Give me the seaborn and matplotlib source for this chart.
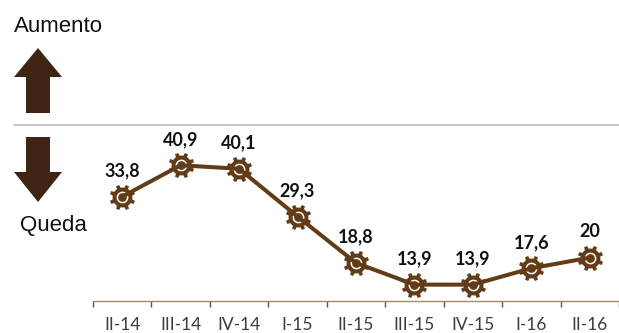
import matplotlib
matplotlib.use("Agg")
import numpy as np
import pandas as pd
import seaborn as sns
import matplotlib.pyplot as plt
from matplotlib.lines import Line2D
from matplotlib.patches import Polygon
from matplotlib.path import Path

quarters = ["II-14", "III-14", "IV-14", "I-15", "II-15", "III-15", "IV-15", "I-16", "II-16"]
values = [33.8, 40.9, 40.1, 29.3, 18.8, 13.9, 13.9, 17.6, 20]
labels = ["33,8", "40,9", "40,1", "29,3", "18,8", "13,9", "13,9", "17,6", "20"]

BROWN = "#623c17"
ARROW = "#3f2414"
W, H = 619, 333


def gear_path(teeth=8, outer=1.0, inner=0.78):
    """Closed outline of a cog wheel with square teeth."""
    verts = []
    step = 2 * np.pi / teeth
    half = step * 0.17
    for i in range(teeth):
        a = i * step + step / 2
        verts += [
            (inner * np.cos(a - 1.4 * half), inner * np.sin(a - 1.4 * half)),
            (outer * np.cos(a - half), outer * np.sin(a - half)),
            (outer * np.cos(a + half), outer * np.sin(a + half)),
            (inner * np.cos(a + 1.4 * half), inner * np.sin(a + 1.4 * half)),
        ]
    verts.append(verts[0])
    codes = [Path.MOVETO] + [Path.LINETO] * (len(verts) - 2) + [Path.CLOSEPOLY]
    return Path(verts, codes)


sns.set_theme(style="white")
plt.rcParams["font.family"] = ["Lato", "DejaVu Sans"]

fig = plt.figure(figsize=(W / 100, H / 100), dpi=100, facecolor="white")
ax = fig.add_axes([93 / W, 1 - 301 / H, (619 - 93) / W, (301 - 125) / H])
ax.patch.set_alpha(0)

df = pd.DataFrame({"trimestre": quarters, "valor": values})
pos = np.arange(len(quarters))
# Cog body, white ring, then the line and a hub dot on top
ax.plot(pos, values, ls="none", marker=gear_path(), ms=18, mfc=BROWN, mec=BROWN, mew=0, zorder=2)
ax.plot(pos, values, ls="none", marker="o", ms=8.5, mfc="white", mec="white", mew=0, zorder=3)
sns.lineplot(data=df, x="trimestre", y="valor", color=BROWN, linewidth=2.9,
             sort=False, ax=ax, solid_capstyle="round", zorder=4)
ax.plot(pos, values, ls="none", marker="o", ms=6.3, mfc=BROWN, mec=BROWN, mew=0, zorder=5)

ax.set_xlim(-0.5, len(quarters) - 0.5)
ax.set_ylim(10.2, 50)
ax.set_xlabel("")
ax.set_ylabel("")
ax.set_yticks([])
for side in ("top", "left", "right"):
    ax.spines[side].set_visible(False)
ax.spines["bottom"].set_color("#a08a70")
ax.spines["bottom"].set_linewidth(1.0)

ax.set_xticks(pos)
ax.set_xticklabels(quarters, fontsize=12.5, color="#3c3c3c")
ax.set_xticks(np.arange(len(quarters) + 1) - 0.5, minor=True)
ax.tick_params(axis="x", which="major", length=0, pad=11.5)
ax.tick_params(axis="x", which="minor", length=4.5, width=1.0, color="#6b5238", bottom=True)

for x, y, text in zip(pos, values, labels):
    ax.annotate(text, (x, y), xytext=(0, 12.5), textcoords="offset points",
                ha="center", va="bottom", fontsize=13, fontweight="bold", color="#111111")


def to_fig(points):
    return [(px / W, 1 - py / H) for px, py in points]


# Increase / decrease legend on the left
fig.add_artist(Line2D([14 / W, 619 / W], [1 - 125 / H] * 2, color="#b5b5b5", lw=1.1))
fig.add_artist(Polygon(to_fig([(38, 48), (62, 77), (50, 77), (50, 113), (26, 113), (26, 77), (14, 77)]),
                       closed=True, transform=fig.transFigure, fc=ARROW, ec="none"))
fig.add_artist(Polygon(to_fig([(38, 202), (62, 172), (50, 172), (50, 137), (26, 137), (26, 172), (14, 172)]),
                       closed=True, transform=fig.transFigure, fc=ARROW, ec="none"))
fig.text(14 / W, 1 - 26 / H, "Aumento", family="Liberation Sans", fontsize=16, color="#111111", va="center", ha="left")
fig.text(20 / W, 1 - 225 / H, "Queda", family="Liberation Sans", fontsize=16, color="#111111", va="center", ha="left")

fig.savefig("out.png", dpi=100)
